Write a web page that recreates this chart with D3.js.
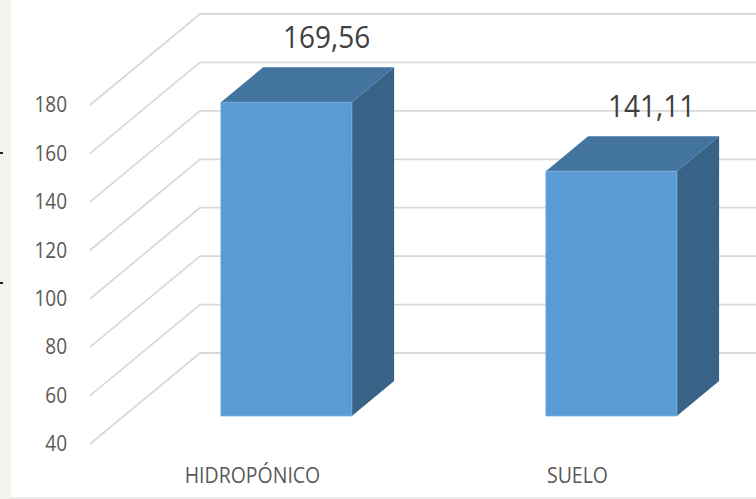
<!DOCTYPE html>
<html>
<head>
<meta charset="utf-8">
<script src="https://cdn.jsdelivr.net/npm/d3@7/dist/d3.min.js"></script>
<style>
  html, body { margin: 0; padding: 0; background: #ffffff; }
  svg { display: block; }
  text { font-family: "Open Sans", "Liberation Sans", sans-serif; }
</style>
</head>
<body>
<svg id="chart" width="756" height="499"></svg>
<script>
// Chart data
const categories = ["HIDROPÓNICO", "SUELO"];
const values = [169.56, 141.11];
const valueLabels = ["169,56", "141,11"];
const yTicks = [40, 60, 80, 100, 120, 140, 160, 180];

const W = 756, H = 499;
const TEXT_STRETCH = 1.12; // slightly tall lettering
const svg = d3.select("#chart");

// Page frame: pale strip on the left, hairline at the bottom
svg.append("rect").attr("x", 0).attr("y", 0).attr("width", 11).attr("height", H).attr("fill", "#f3f4ee");
svg.append("line").attr("x1", 11).attr("x2", W).attr("y1", 498).attr("y2", 498)
  .attr("stroke", "#e4e4e4").attr("stroke-width", 1.5);
svg.append("rect").attr("x", 0).attr("y", 152).attr("width", 3).attr("height", 2).attr("fill", "#222");
svg.append("rect").attr("x", 0).attr("y", 282).attr("width", 3).attr("height", 2).attr("fill", "#222");

// Oblique projection: depth 0 is the front plane, depth 1 the back wall
const depthDX = 110, depthDY = -91;
const proj = (x, y, t) => [x + depthDX * t, y + depthDY * t];

// Scales on the front plane
const y = d3.scaleLinear().domain([40, 180]).range([444, 105]);
const x = d3.scaleBand().domain(categories).range([90, 740])
  .paddingInner(0.597).paddingOuter(0.2985);

// Bar depth span inside the box
const tFront = 0.308, tBack = 0.692;

// Text helper that stretches vertically around its own baseline
function label(sel, px, py, str, size, fill) {
  return sel.append("text")
    .attr("transform", `translate(${px},${py}) scale(1,${TEXT_STRETCH})`)
    .attr("text-anchor", "middle")
    .attr("font-size", size)
    .attr("fill", fill)
    .text(str);
}

// Gridlines: front edge -> back wall -> across the wall
const grid = svg.append("g").attr("fill", "none").attr("stroke", "#d9d9d9").attr("stroke-width", 1.8);
yTicks.forEach(v => {
  const a = [x.range()[0], y(v)];
  const b = proj(a[0], a[1], 1);
  grid.append("path").attr("d", d3.line()([a, b, [W + 5, b[1]]]));
});

// Value axis labels
const yAxis = d3.axisLeft(y).tickValues(yTicks).tickSize(0).tickPadding(23);
const ag = svg.append("g").attr("transform", `translate(${x.range()[0]},0)`).call(yAxis);
ag.select(".domain").remove();
ag.selectAll("text")
  .attr("font-family", "Open Sans").attr("font-size", 19).attr("fill", "#595959")
  .attr("transform", `scale(1,${TEXT_STRETCH})`);

// 3D bars
const bars = svg.append("g");
categories.forEach((c, i) => {
  const v = values[i];
  const x0 = x(c), x1 = x(c) + x.bandwidth();
  const yb = y(40), yt = y(v);
  const fl = proj(x0, yt, tFront), fr = proj(x1, yt, tFront);
  const flb = proj(x0, yb, tFront), frb = proj(x1, yb, tFront);
  const bl = proj(x0, yt, tBack), br = proj(x1, yt, tBack), brb = proj(x1, yb, tBack);
  const g = bars.append("g");
  // right side
  g.append("path").attr("d", d3.line()([fr, br, brb, frb]) + "Z").attr("fill", "#386286");
  // top
  g.append("path").attr("d", d3.line()([fl, bl, br, fr]) + "Z").attr("fill", "#43739f");
  // front
  g.append("path").attr("d", d3.line()([fl, fr, frb, flb]) + "Z").attr("fill", "#5b9bd5")
    .attr("stroke", "#75abdc").attr("stroke-width", 0.8);
  // value label above the back edge of the top
  label(svg, (bl[0] + br[0]) / 2 - 2, bl[1] - 19, valueLabels[i], 28, "#404040");
});

// Category labels
categories.forEach(c => {
  label(svg, x(c) + x.bandwidth() / 2, 483, c, 19.5, "#595959");
});
</script>
</body>
</html>
